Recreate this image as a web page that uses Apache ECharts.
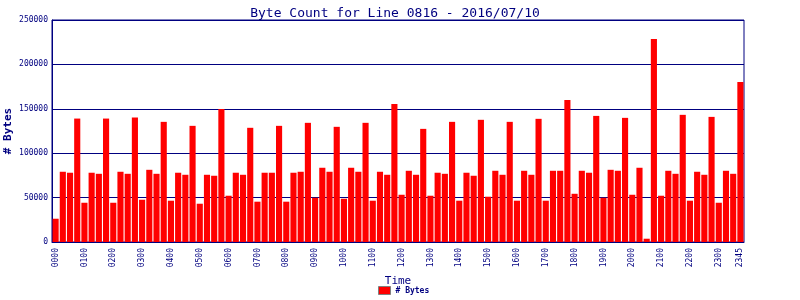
<!DOCTYPE html>
<html><head><meta charset="utf-8">
<script src="https://cdn.jsdelivr.net/npm/echarts@6/dist/echarts.min.js"></script>
<style>html,body{margin:0;padding:0;background:#fff}#c{width:800px;height:300px}</style>
</head><body><div id="c"></div>
<script>
const categories = ["0000","0015","0030","0045","0100","0115","0130","0145","0200","0215","0230","0245",
"0300","0315","0330","0345","0400","0415","0430","0445","0500","0515","0530","0545",
"0600","0615","0630","0645","0700","0715","0730","0745","0800","0815","0830","0845",
"0900","0915","0930","0945","1000","1015","1030","1045","1100","1115","1130","1145",
"1200","1215","1230","1245","1300","1315","1330","1345","1400","1415","1430","1445",
"1500","1515","1530","1545","1600","1615","1630","1645","1700","1715","1730","1745",
"1800","1815","1830","1845","1900","1915","1930","1945","2000","2015","2030","2045",
"2100","2115","2130","2145","2200","2215","2230","2245","2300","2315","2330","2345"];
const bytes = [26200,79100,78000,139000,44200,78000,76800,139000,44200,79100,76800,140200,
47600,81300,76800,135300,46500,78000,75700,130800,43100,75700,74600,149900,
52100,78000,75700,128600,45400,78000,78000,130800,45400,78000,79100,134200,
49800,83600,79100,129700,48700,83600,79100,134200,46500,79100,75700,155500,
53200,80200,75700,127400,52100,78000,76800,135300,46500,78000,74600,137600,
51000,80200,75700,135300,46500,80200,75700,138700,46500,80200,80200,160000,
54300,80200,78000,142000,49800,81300,80200,139800,53200,83600,3700,228600,
52100,80200,76800,143200,46500,79100,75700,140900,44200,80200,76800,180300];
const yTicks = [0,50000,100000,150000,200000,250000];
const navy = '#000080';
const mono = 'DejaVu Sans Mono';
const chart = echarts.init(document.getElementById('c'), null, {renderer:'canvas'});
chart.setOption({
  animation:false,
  backgroundColor:'#ffffff',
  title:{text:'Byte Count for Line 0816 - 2016/07/10', left:390, textAlign:'center', top:2,
    textStyle:{fontFamily:mono, fontSize:13, fontWeight:'normal', color:navy}},
  grid:{left:52, right:56, top:20, bottom:58, show:true, borderColor:navy, borderWidth:1,
    containLabel:false, outerBoundsMode:'none'},
  legend:{bottom:0, left:373, itemWidth:12, itemHeight:8, itemGap:4, icon:'rect',
    textStyle:{fontFamily:mono, fontSize:8, fontWeight:'bold', color:navy},
    data:[{name:'# Bytes', itemStyle:{borderColor:'#808080', borderWidth:1}}]},
  xAxis:{type:'category', data:categories, name:'Time', nameLocation:'middle', nameGap:31,
    nameTextStyle:{fontFamily:mono, fontSize:11, color:navy},
    axisLine:{lineStyle:{color:navy}}, axisTick:{show:false},
    axisLabel:{rotate:90, fontFamily:mono, fontSize:8, color:navy, margin:6,
      interval:(i)=> i%4===0 || i===categories.length-1}},
  yAxis:{type:'value', min:yTicks[0], max:yTicks[yTicks.length-1], interval:50000,
    name:'# Bytes', nameLocation:'middle', nameGap:38, nameMoveOverlap:false,
    nameTextStyle:{fontFamily:mono, fontSize:11, fontWeight:'bold', color:navy},
    axisLine:{show:true, lineStyle:{color:navy}}, axisTick:{show:false},
    axisLabel:{fontFamily:mono, fontSize:8, color:navy, margin:4, formatter:(v)=>String(v)},
    splitLine:{lineStyle:{color:navy, width:1}}},
  series:[{name:'# Bytes', type:'bar', data:bytes, barCategoryGap:'15%',
    itemStyle:{color:'#ff0000'}}]
});
</script></body></html>
